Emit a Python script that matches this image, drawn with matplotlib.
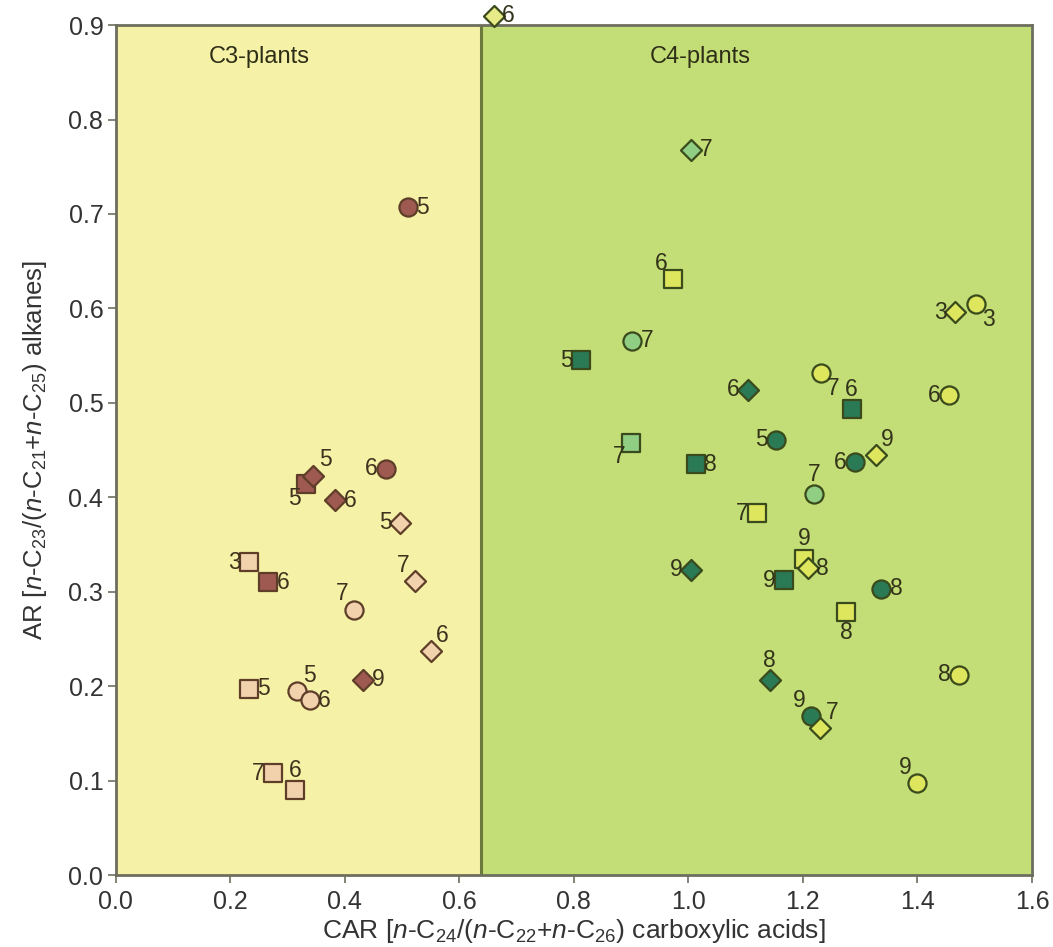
import matplotlib
matplotlib.use("Agg")
import matplotlib.pyplot as plt

plt.rcParams['font.family'] = ['Liberation Sans', 'DejaVu Sans']
plt.rcParams['mathtext.fontset'] = 'custom'
plt.rcParams['mathtext.rm'] = 'Liberation Sans'
plt.rcParams['mathtext.it'] = 'Liberation Sans:italic'

# Boundary between the C3 and C4 plant domains (CAR value)
car_boundary = 0.637

# ---- C3 plants ----
c3_dark_circle_x = [0.510, 0.471]
c3_dark_circle_y = [0.707, 0.430]
c3_dark_circle_lab = ['5', '6']

c3_light_circle_x = [0.416, 0.317, 0.339]
c3_light_circle_y = [0.281, 0.195, 0.185]
c3_light_circle_lab = ['7', '5', '6']

c3_dark_square_x = [0.333, 0.266]
c3_dark_square_y = [0.414, 0.310]
c3_dark_square_lab = ['5', '6']

c3_light_square_x = [0.233, 0.232, 0.274, 0.313]
c3_light_square_y = [0.331, 0.197, 0.108, 0.090]
c3_light_square_lab = ['3', '5', '7', '6']

c3_dark_diamond_x = [0.345, 0.383, 0.432]
c3_dark_diamond_y = [0.423, 0.397, 0.207]
c3_dark_diamond_lab = ['5', '6', '9']

c3_light_diamond_x = [0.496, 0.522, 0.550]
c3_light_diamond_y = [0.373, 0.311, 0.237]
c3_light_diamond_lab = ['5', '7', '6']

# ---- C4 plants ----
c4_dark_circle_x = [1.153, 1.291, 1.337, 1.214]
c4_dark_circle_y = [0.461, 0.437, 0.303, 0.168]
c4_dark_circle_lab = ['5', '6', '8', '9']

c4_mid_circle_x = [0.902, 1.219]
c4_mid_circle_y = [0.566, 0.403]
c4_mid_circle_lab = ['7', '7']

c4_yellow_circle_x = [1.232, 1.503, 1.455, 1.473, 1.399]
c4_yellow_circle_y = [0.532, 0.605, 0.508, 0.212, 0.097]
c4_yellow_circle_lab = ['7', '3', '6', '8', '9']

c4_dark_square_x = [0.813, 1.285, 1.013, 1.167]
c4_dark_square_y = [0.545, 0.493, 0.435, 0.312]
c4_dark_square_lab = ['5', '6', '8', '9']

c4_mid_square_x = [0.899]
c4_mid_square_y = [0.458]
c4_mid_square_lab = ['7']

c4_yellow_square_x = [0.973, 1.119, 1.202, 1.276]
c4_yellow_square_y = [0.631, 0.383, 0.335, 0.278]
c4_yellow_square_lab = ['6', '7', '9', '8']

c4_dark_diamond_x = [1.104, 1.005, 1.142]
c4_dark_diamond_y = [0.514, 0.323, 0.206]
c4_dark_diamond_lab = ['6', '9', '8']

c4_mid_diamond_x = [1.005]
c4_mid_diamond_y = [0.768]
c4_mid_diamond_lab = ['7']

c4_pale_diamond_x = [0.660]
c4_pale_diamond_y = [0.910]
c4_pale_diamond_lab = ['6']

c4_yellow_diamond_x = [1.327, 1.466, 1.209, 1.230]
c4_yellow_diamond_y = [0.445, 0.596, 0.325, 0.156]
c4_yellow_diamond_lab = ['9', '3', '8', '7']

x_ticks = [0.0, 0.2, 0.4, 0.6, 0.8, 1.0, 1.2, 1.4, 1.6]
y_ticks = [0.0, 0.1, 0.2, 0.3, 0.4, 0.5, 0.6, 0.7, 0.8, 0.9]

# Placement of each number next to its marker
label_side = {
    'c3_dark_circle': ['r', 'l'],
    'c3_light_circle': ['ul', 'ur', 'r'],
    'c3_dark_square': ['ll', 'r'],
    'c3_light_square': ['l', 'r', 'l', 'u'],
    'c3_dark_diamond': ['ur', 'r', 'r'],
    'c3_light_diamond': ['l', 'ul', 'ur'],
    'c4_dark_circle': ['l', 'l', 'r', 'ul'],
    'c4_mid_circle': ['r', 'u'],
    'c4_yellow_circle': ['dr', 'dr', 'l', 'l', 'ul'],
    'c4_dark_square': ['l', 'u', 'r', 'l'],
    'c4_mid_square': ['ll'],
    'c4_yellow_square': ['ul', 'l', 'u', 'd'],
    'c4_dark_diamond': ['l', 'l', 'u'],
    'c4_mid_diamond': ['r'],
    'c4_pale_diamond': ['r'],
    'c4_yellow_diamond': ['ur', 'l', 'r', 'ur'],
}
offsets = {
    'r': (6, 0, 'left', 'center'),
    'l': (-6, 0, 'right', 'center'),
    'u': (0, 6, 'center', 'bottom'),
    'd': (0, -6, 'center', 'top'),
    'ur': (4, 3, 'left', 'bottom'),
    'ul': (-4, 3, 'right', 'bottom'),
    'dr': (4, -3, 'left', 'top'),
    'll': (-4, -2, 'right', 'top'),
}

C3_DARK, C3_LIGHT, C3_EDGE = '#9e5a50', '#f2d2ad', '#5e3e28'
C4_DARK, C4_MID, C4_YELLOW, C4_PALE, C4_EDGE = '#2a7a55', '#8fce83', '#dde65c', '#e6eb88', '#3a4a1c'

series = [
    ('c3_dark_circle', c3_dark_circle_x, c3_dark_circle_y, c3_dark_circle_lab, 'o', C3_DARK, C3_EDGE),
    ('c3_light_circle', c3_light_circle_x, c3_light_circle_y, c3_light_circle_lab, 'o', C3_LIGHT, C3_EDGE),
    ('c3_dark_square', c3_dark_square_x, c3_dark_square_y, c3_dark_square_lab, 's', C3_DARK, C3_EDGE),
    ('c3_light_square', c3_light_square_x, c3_light_square_y, c3_light_square_lab, 's', C3_LIGHT, C3_EDGE),
    ('c3_dark_diamond', c3_dark_diamond_x, c3_dark_diamond_y, c3_dark_diamond_lab, 'D', C3_DARK, C3_EDGE),
    ('c3_light_diamond', c3_light_diamond_x, c3_light_diamond_y, c3_light_diamond_lab, 'D', C3_LIGHT, C3_EDGE),
    ('c4_dark_circle', c4_dark_circle_x, c4_dark_circle_y, c4_dark_circle_lab, 'o', C4_DARK, C4_EDGE),
    ('c4_mid_circle', c4_mid_circle_x, c4_mid_circle_y, c4_mid_circle_lab, 'o', C4_MID, C4_EDGE),
    ('c4_yellow_circle', c4_yellow_circle_x, c4_yellow_circle_y, c4_yellow_circle_lab, 'o', C4_YELLOW, C4_EDGE),
    ('c4_dark_square', c4_dark_square_x, c4_dark_square_y, c4_dark_square_lab, 's', C4_DARK, C4_EDGE),
    ('c4_mid_square', c4_mid_square_x, c4_mid_square_y, c4_mid_square_lab, 's', C4_MID, C4_EDGE),
    ('c4_yellow_square', c4_yellow_square_x, c4_yellow_square_y, c4_yellow_square_lab, 's', C4_YELLOW, C4_EDGE),
    ('c4_dark_diamond', c4_dark_diamond_x, c4_dark_diamond_y, c4_dark_diamond_lab, 'D', C4_DARK, C4_EDGE),
    ('c4_mid_diamond', c4_mid_diamond_x, c4_mid_diamond_y, c4_mid_diamond_lab, 'D', C4_MID, C4_EDGE),
    ('c4_pale_diamond', c4_pale_diamond_x, c4_pale_diamond_y, c4_pale_diamond_lab, 'D', C4_PALE, C4_EDGE),
    ('c4_yellow_diamond', c4_yellow_diamond_x, c4_yellow_diamond_y, c4_yellow_diamond_lab, 'D', C4_YELLOW, C4_EDGE),
]
marker_size = {'o': 170, 's': 150, 'D': 115}

fig = plt.figure(figsize=(10.53, 9.47), dpi=100)
ax = fig.add_axes([0.110, 0.076, 0.870, 0.8975])
ax.set_xlim(0, 1.6)
ax.set_ylim(0, 0.9)

# Plant-type domains
ax.axvspan(0, car_boundary, color='#f5f1a6', zorder=0, lw=0)
ax.axvspan(car_boundary, 1.6, color='#c3de76', zorder=0, lw=0)
ax.axvline(car_boundary, color='#6b7a3a', lw=2.2, zorder=1)

ax.text(0.25, 0.866, 'C3-plants', fontsize=17, color='#2e2e18', ha='center', va='center')
ax.text(1.02, 0.866, 'C4-plants', fontsize=17, color='#2e2e18', ha='center', va='center')

for key, xs, ys, labs, mk, fc, ec in series:
    ax.scatter(xs, ys, marker=mk, s=marker_size[mk], facecolor=fc, edgecolor=ec,
               linewidth=1.6, zorder=4, clip_on=False)
    txt_color = '#40321e' if key.startswith('c3') else '#33331a'
    for xv, yv, lab, side in zip(xs, ys, labs, label_side[key]):
        dx, dy, ha, va = offsets[side]
        ax.annotate(lab, (xv, yv), xytext=(dx, dy), textcoords='offset points',
                    ha=ha, va=va, fontsize=16.5, color=txt_color, zorder=5,
                    annotation_clip=False)

ax.set_xticks(x_ticks)
ax.set_xticklabels([f'{v:.1f}' for v in x_ticks])
ax.set_yticks(y_ticks)
ax.set_yticklabels([f'{v:.1f}' for v in y_ticks])
ax.tick_params(direction='out', length=6, width=1.3, color='#7a7a6a',
               labelsize=18, labelcolor='#333333')
ax.tick_params(axis='x', pad=5)
ax.tick_params(axis='y', pad=3)

for sp in ax.spines.values():
    sp.set_color('#6e6e5e')
    sp.set_linewidth(2.0)
    sp.set_zorder(3)

ax.set_xlabel(r'CAR [$\it{n}$-C$_{24}$/($\it{n}$-C$_{22}$+$\it{n}$-C$_{26}$) carboxylic acids]',
              fontsize=19, color='#333333', labelpad=2)
ax.set_ylabel(r'AR [$\it{n}$-C$_{23}$/($\it{n}$-C$_{21}$+$\it{n}$-C$_{25}$) alkanes]',
              fontsize=18.5, color='#333333', labelpad=14)

fig.savefig('out.png', dpi=100)
